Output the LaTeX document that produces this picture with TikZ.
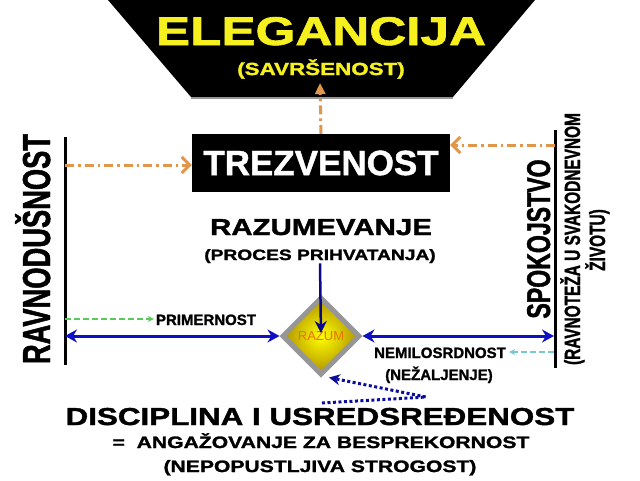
\documentclass[tikz,border=0pt]{standalone}
\usepackage{fontspec}
\setmainfont{Liberation Sans}[BoldFeatures={FakeBold=1.2}]
\newfontfamily\widefont[FakeStretch=1.28,BoldFeatures={FakeBold=1.6}]{Liberation Sans}
\newfontfamily\narrowfont[FakeStretch=0.7,BoldFeatures={FakeBold=1.2}]{Liberation Sans}
\usetikzlibrary{arrows.meta}
\usetikzlibrary{shapes.geometric}

\newcommand{\fsz}[1]{\fontsize{#1}{#1}\selectfont}
\definecolor{elegyellow}{RGB}{245,240,30}
\definecolor{arrowblue}{RGB}{15,15,195}
\definecolor{dashorange}{RGB}{225,150,75}
\definecolor{dashgreen}{RGB}{90,200,90}
\definecolor{dashcyan}{RGB}{120,200,210}
\definecolor{diamgray}{RGB}{150,150,150}
\definecolor{razumolive}{RGB}{175,145,0}
\definecolor{razumorange}{RGB}{235,115,0}

\begin{document}
\begin{tikzpicture}[x=1pt,y=-1pt,
    txt/.style={inner sep=0pt, anchor=base},
    orangearr/.style={draw=dashorange, line width=3pt, dash pattern=on 9pt off 4pt on 2.5pt off 4pt,
      -{Straight Barb[length=8pt,width=16pt]}},
    bluearr/.style={draw=arrowblue, line width=3pt,
      {Stealth[length=12pt,width=13pt]}-{Stealth[length=12pt,width=13pt]}},
    greenarr/.style={draw=dashgreen, line width=2pt, dash pattern=on 6pt off 3pt,
      -{Stealth[length=6pt,width=6pt]}},
    cyanarr/.style={draw=dashcyan, line width=2pt, dash pattern=on 6pt off 3pt,
      -{Stealth[length=6pt,width=6pt]}},
    dotarr/.style={draw=arrowblue!80!black, line width=3pt, dash pattern=on 3pt off 2.5pt,
      -{Stealth[length=11pt,width=11pt]}}]
  \def\barw{3pt}
  \useasboundingbox (0,0) rectangle (640,480);

  % top: elegancija
  \fill (108,0) -- (535,0) -- (453,97) -- (191,97) -- cycle;
  \draw[diamgray, line width=2pt] (191,98) -- (453,98);
  \node[txt, text=elegyellow, font=\widefont\bfseries\fsz{40}] (eleg) at (321,45) {ELEGANCIJA};
  \node[txt, text=elegyellow, font=\widefont\bfseries\fsz{17.5}] (savr) at (321,75) {(SAVRŠENOST)};
  \coordinate (elegtip) at (320,83);

  % trezvenost
  \node[fill=black, text=white, minimum width=258pt, minimum height=58pt, inner sep=0pt,
    font=\bfseries\fsz{35}] (trez) at (321,163) {TREZVENOST};
  \node[txt, font=\widefont\bfseries\fsz{23}] (razv) at (321,235) {RAZUMEVANJE};
  \node[txt, font=\widefont\bfseries\fsz{15}] (proc) at (320,260) {(PROCES PRIHVATANJA)};

  % side bars
  \coordinate (ltop) at (65,137);
  \coordinate (lbot) at (65,365);
  \coordinate (rtop) at (555,130);
  \coordinate (rbot) at (555,368);
  \draw[line width=\barw] (ltop) -- (lbot);
  \draw[line width=\barw] (rtop) -- (rbot);
  \node[txt, rotate=90, font=\narrowfont\bfseries\fsz{39}] (ravn) at (50,249) {RAVNODUŠNOST};
  \node[txt, rotate=90, font=\narrowfont\bfseries\fsz{33}] (spok) at (550,239) {SPOKOJSTVO};
  \node[txt, rotate=90, font=\narrowfont\bfseries\fsz{22}] (ravnot) at (580,239) {(RAVNOTEŽA U SVAKODNEVNOM};
  \node[txt, rotate=90, font=\narrowfont\bfseries\fsz{22}] (zivot) at (605,240) {ŽIVOTU)};

  % razum
  \node[diamond, aspect=1, minimum size=78pt, inner sep=0pt, draw=diamgray, line width=5pt,
    inner color=yellow, outer color=razumolive, text=razumorange, font=\fsz{13}] (razum) at (321,336) {RAZUM};

  % labels below
  \node[txt, font=\bfseries\fsz{15}] (prim) at (206,325) {PRIMERNOST};
  \node[txt, font=\bfseries\fsz{15}] (nemil) at (440,358) {NEMILOSRDNOST};
  \node[txt, font=\bfseries\fsz{15}] (nezal) at (439,380) {(NEŽALJENJE)};
  \node[txt, font=\widefont\bfseries\fsz{24.5}] (disc) at (320,425) {DISCIPLINA I USREDSREĐENOST};
  \node[txt, font=\widefont\bfseries\fsz{16.5}] (angaz) at (321,448) {=~~ANGAŽOVANJE ZA BESPREKORNOST};
  \node[txt, font=\widefont\bfseries\fsz{16.5}] (nepop) at (320,472) {(NEPOPUSTLJIVA STROGOST)};

  % connectors
  \coordinate (lorng) at (65,165);
  \coordinate (rorng) at (555,145);
  \draw[orangearr] (lorng) -- (lorng -| trez.west);
  \draw[orangearr] (rorng) -- (rorng -| trez.east);
  \draw[orangearr, -{Triangle[length=11pt,width=10pt]}] (trez.north) -- (elegtip);

  \coordinate (lblue) at (65,336);
  \coordinate (rblue) at (554,336);
  \draw[bluearr] (lblue) -- (razum.west);
  \draw[bluearr] (razum.east) -- (rblue);
  \draw[draw=arrowblue!70!black, line width=2.5pt, -{Stealth[length=12pt,width=12pt]}, shorten >=3pt]
    (proc.south) -- (razum.center);

  \coordinate (lgreen) at (65,319);
  \coordinate (rcyan) at (554,352);
  \draw[greenarr] (lgreen) -- ([xshift=-2pt]lgreen -| prim.west);
  \draw[cyanarr] (rcyan) -- ([xshift=3pt]rcyan -| nemil.east);

  \coordinate (d1) at (322,403);
  \coordinate (d2) at (426,397);
  \draw[dotarr] (d1) -- (d2) -- ([xshift=8pt]razum.south);

\end{tikzpicture}
\end{document}
